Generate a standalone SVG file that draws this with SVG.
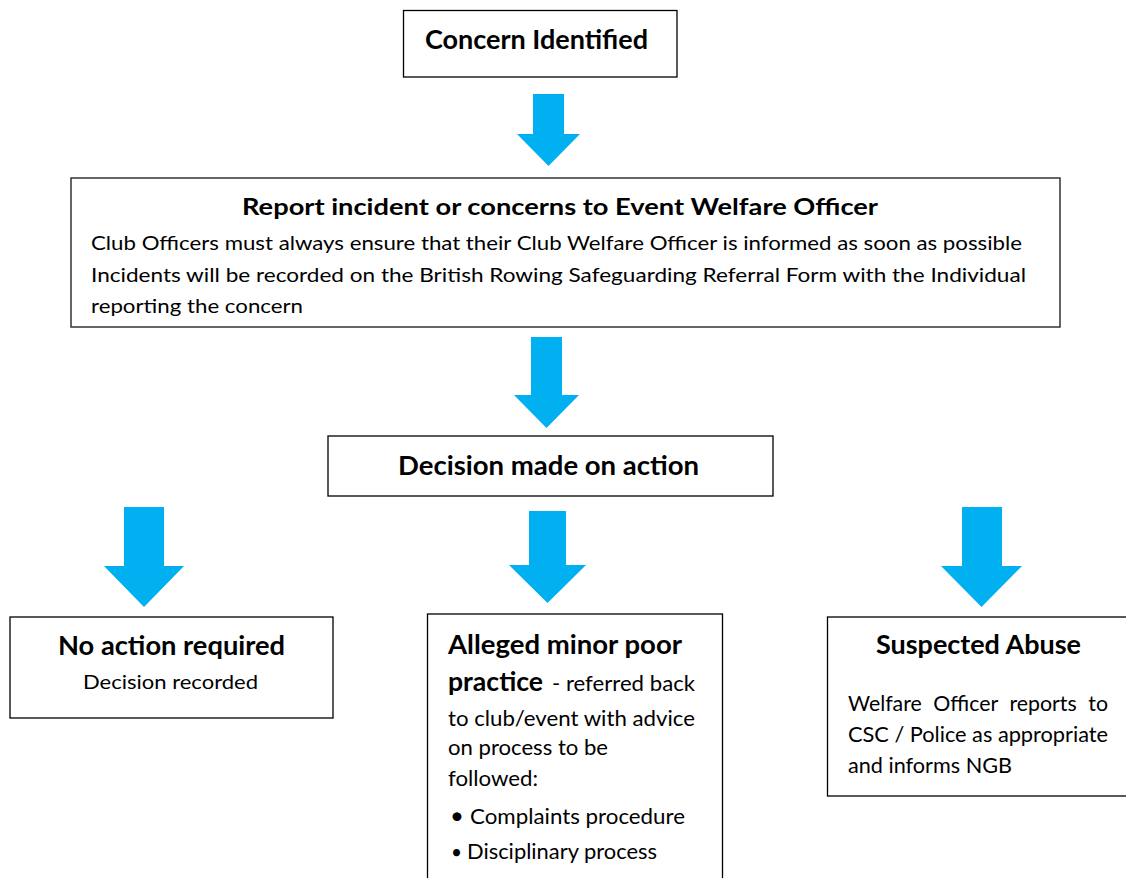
<svg xmlns="http://www.w3.org/2000/svg" width="1126" height="878" viewBox="0 0 1126 878">
<style>
.box{fill:#fff;stroke:#000;stroke-width:1.3}
.arrow{fill:#00B0F0}
text{font-family:Lato,"Liberation Sans",sans-serif;fill:#000}
.h{font-weight:bold;font-size:26.5px}
.t{font-weight:bold;font-size:23px}
.b{font-size:20px}
.a{font-size:22px}
.s{font-size:21px}
</style>
<rect width="1126" height="878" fill="#fff"/>
<g id="connectors">
<polygon class="arrow" points="533,94 564,94 564,134 580,134 548.5,166 517,134 533,134"/>
<polygon class="arrow" points="531,337 562,337 562,395 579,395 546.5,428 514,395 531,395"/>
<polygon class="arrow" points="529,511 566,511 566,565 586,565 547.5,603 509,565 529,565"/>
<polygon class="arrow" points="124,507 164,507 164,566 184,566 144,607 104,566 124,566"/>
<polygon class="arrow" points="962,507 1002,507 1002,566 1022,566 981.5,607 941,566 962,566"/>
</g>
<g id="concern">
<rect class="box" x="403.5" y="10.5" width="273.5" height="66.5"/>
<text class="h" x="425" y="49" textLength="223" lengthAdjust="spacingAndGlyphs">Concern Identified</text>
</g>
<g id="report">
<rect class="box" x="71" y="178" width="989" height="149" style="stroke:#333;stroke-width:1.5"/>
<text class="t" x="242" y="215" textLength="636" lengthAdjust="spacingAndGlyphs">Report incident or concerns to Event Welfare Officer</text>
<text class="b" x="91" y="250" textLength="931" lengthAdjust="spacingAndGlyphs">Club Officers must always ensure that their Club Welfare Officer is informed as soon as possible</text>
<text class="b" x="91" y="282" textLength="935" lengthAdjust="spacingAndGlyphs">Incidents will be recorded on the British Rowing Safeguarding Referral Form with the Individual</text>
<text class="b" x="91" y="313" textLength="212" lengthAdjust="spacingAndGlyphs">reporting the concern</text>
</g>
<g id="decision">
<rect class="box" x="328" y="436" width="445" height="60"/>
<text class="h" x="398" y="475" textLength="301" lengthAdjust="spacingAndGlyphs">Decision made on action</text>
</g>
<g id="no-action">
<rect class="box" x="10" y="617" width="323" height="101"/>
<text class="h" x="58" y="655" textLength="227" lengthAdjust="spacingAndGlyphs">No action required</text>
<text class="s" x="83" y="689" textLength="175" lengthAdjust="spacingAndGlyphs" style="font-size:19.5px">Decision recorded</text>
</g>
<g id="alleged">
<rect class="box" x="427.5" y="614" width="295" height="280"/>
<text class="h" x="448" y="654" textLength="234" lengthAdjust="spacingAndGlyphs">Alleged minor poor</text>
<text class="a" x="448" y="691"><tspan class="h" textLength="95" lengthAdjust="spacingAndGlyphs">practice</tspan><tspan x="552" textLength="143" lengthAdjust="spacingAndGlyphs">- referred back</tspan></text>
<text class="a" x="448" y="726" textLength="247" lengthAdjust="spacingAndGlyphs">to club/event with advice</text>
<text class="a" x="448" y="755" textLength="160" lengthAdjust="spacingAndGlyphs">on process to be</text>
<text class="a" x="448" y="786" textLength="90" lengthAdjust="spacingAndGlyphs">followed:</text>
<text class="a" x="450" y="824" style="font-size:24px">•</text>
<text class="a" x="470" y="824" textLength="215" lengthAdjust="spacingAndGlyphs">Complaints procedure</text>
<text class="a" x="451" y="859" style="font-size:19px">•</text>
<text class="a" x="467" y="859" textLength="190" lengthAdjust="spacingAndGlyphs">Disciplinary process</text>
</g>
<g id="suspected">
<rect class="box" x="827.5" y="617" width="310" height="179"/>
<text class="h" x="876" y="654" textLength="205" lengthAdjust="spacingAndGlyphs">Suspected Abuse</text>
<text class="s" x="848" y="711" textLength="260" lengthAdjust="spacingAndGlyphs" word-spacing="6">Welfare Officer reports to</text>
<text class="s" x="848" y="742" textLength="260" lengthAdjust="spacingAndGlyphs">CSC / Police as appropriate</text>
<text class="s" x="848" y="773" textLength="164" lengthAdjust="spacingAndGlyphs">and informs NGB</text>
</g>
</svg>
